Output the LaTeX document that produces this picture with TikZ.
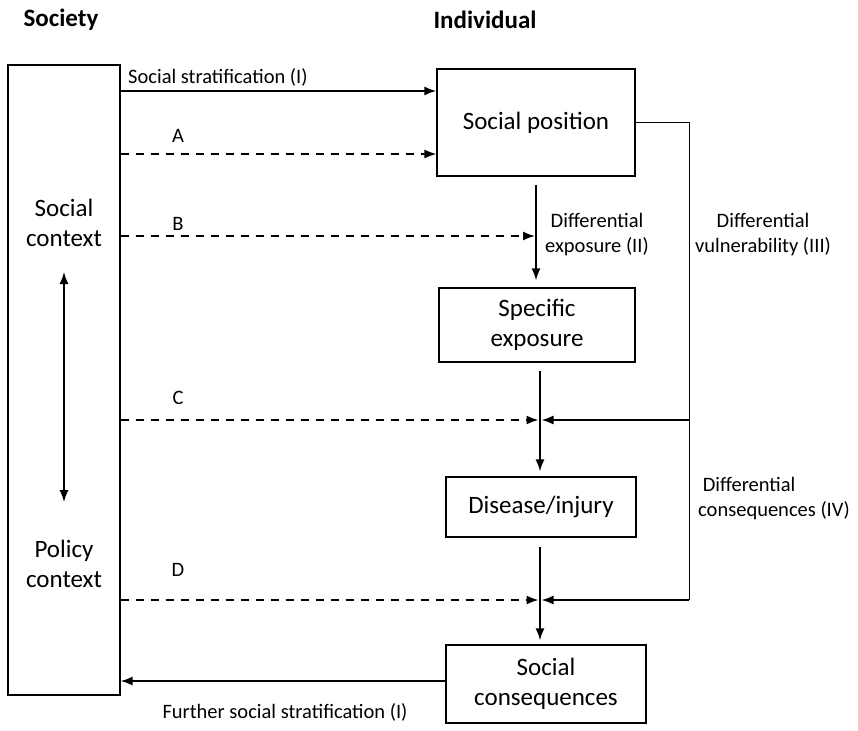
\documentclass[tikz,border=0pt]{standalone}
\usepackage{fontspec}
\setmainfont{Carlito}
\usetikzlibrary{arrows.meta,calc}

\begin{document}
\begin{tikzpicture}[x=1pt,y=-1pt,
	>={Latex[length=12pt,width=9pt]},
	box/.style={draw, line width=1.2pt, inner sep=0pt, align=center, font=\fontsize{25}{30}\selectfont},
	lbl/.style={inner sep=0pt, align=center, font=\fontsize{20.5}{25}\selectfont},
	ttl/.style={inner sep=0pt, font=\bfseries\fontsize{25}{30}\selectfont},
	flow/.style={line width=1.8pt, ->},
	infl/.style={line width=1.6pt, ->, dash pattern=on 8pt off 7pt}]
	\useasboundingbox (0,0) rectangle (858,730);

	\node[ttl] (soc) at (61,20) {Society};
	\node[ttl] (ind) at (485,20) {Individual};

	% left column
	\node[box, minimum width=112pt, minimum height=630pt] (ctx) at (64,380) {};
	\node[box, draw=none] (sctx) at (64,223) {Social\\context};
	\node[box, draw=none] (pctx) at (64,564) {Policy\\context};
	\coordinate (up) at (64,272);
	\coordinate (dn) at (64,502);
	\draw[<->, line width=1.5pt] (up) -- (dn);

	% individual column
	\node[box, minimum width=198pt, minimum height=107pt] (pos) at (536,122.5) {Social position};
	\node[box, minimum width=196pt, minimum height=74pt] (spec) at (537,325) {Specific\\exposure};
	\node[box, minimum width=190pt, minimum height=60pt] (dis) at (541,507) {Disease/injury};
	\node[box, minimum width=200pt, minimum height=78pt] (cons) at (546,684) {Social\\consequences};

	\coordinate (jB) at (536,236);
	\coordinate (jC) at (540,420);
	\coordinate (jD) at (540,600);
	\coordinate (rC) at (689,420);
	\coordinate (rD) at (689,600);

	\draw[flow] (ctx.east |- 0,91) -- (pos.west |- 0,91);
	\node[lbl, anchor=west] (strat) at (128,77) {Social stratification (I)};
	\draw[infl] (ctx.east |- 0,154) -- (pos.west |- 0,154);
	\node[lbl] (a) at (178,136) {A};
	\draw[infl, shorten >=1pt] (ctx.east |- jB) -- (jB);
	\node[lbl] (b) at (178,224) {B};
	\draw[infl, shorten >=1.5pt] (ctx.east |- jC) -- (jC);
	\node[lbl] (c) at (178,398) {C};
	\draw[infl, shorten >=1.5pt] (ctx.east |- jD) -- (jD);
	\node[lbl] (d) at (178,570) {D};

	\draw[flow, shorten <=8pt, shorten >=7pt] (pos.south) -- (pos.south |- spec.north);
	\node[lbl] (dexp) at (597,235) {Differential\\exposure (II)};
	\draw[flow, shorten <=8pt, shorten >=5pt] (spec.south -| jC) -- (dis.north -| jC);
	\draw[flow, shorten <=9pt, shorten >=4pt] (dis.south -| jC) -- (cons.north -| jC);

	\draw[line width=1pt] (pos.east) -- (pos.east -| rC) -- (rD);
	\node[lbl] (dvul) at (763,235) {Differential\\vulnerability (III)};
	\draw[flow, shorten >=1.5pt] (rC) -- (jC);
	\draw[flow, shorten >=1.5pt] (rD) -- (jD);
	\node[lbl, align=left, anchor=west] (dcon) at (698,499) {~Differential\\consequences (IV)};

	\draw[flow] (cons.west |- 0,681) -- (ctx.east |- 0,681);
	\node[lbl] (fstrat) at (285,712) {Further social stratification (I)};
\end{tikzpicture}
\end{document}
